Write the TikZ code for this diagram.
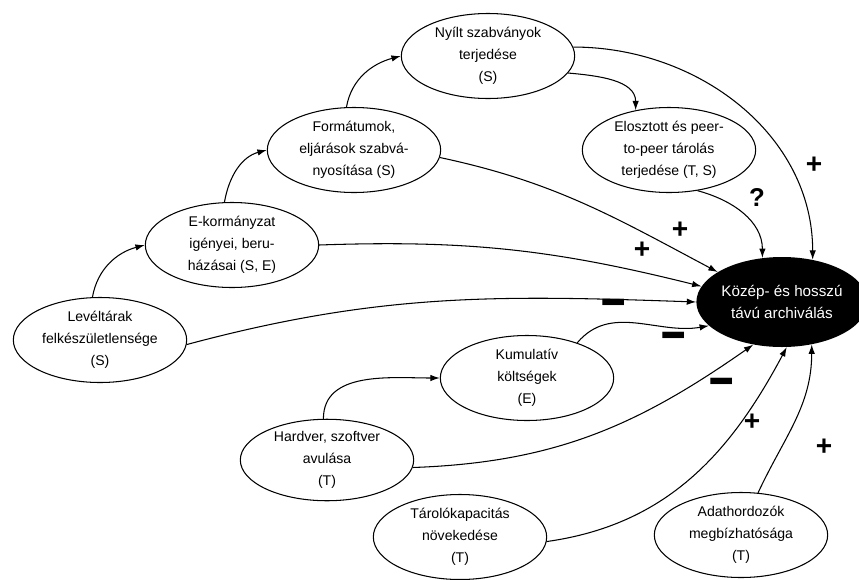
\documentclass[tikz,border=0pt]{standalone}
\usepackage{fontspec}
\setmainfont{Liberation Sans}
\usetikzlibrary{shapes.geometric,arrows.meta}
\begin{document}
\begin{tikzpicture}[x=.03cm,y=.03cm,font=\fontsize{12}{19}\selectfont,
  factor/.style={draw,line width=.9pt,ellipse,inner sep=0pt,minimum width=5.2cm,minimum height=2.55cm,align=center},
  link/.style={line width=.9pt,-{Latex[length=8pt,width=5.5pt]}},
  plus/.style={font=\fontsize{24}{24}\selectfont\bfseries},
  minus/.style={font=\fontsize{34}{34}\selectfont\bfseries}]
\useasboundingbox (0,0) rectangle (859,-579);
\node[factor] (nyilt) at (488,-56) {Nyílt szabványok\\terjedése\\(S)};
\node[factor] (eloszt) at (669,-150) {Elosztott és peer-\\to-peer tárolás\\terjedése (T, S)};
\node[factor] (format) at (354,-150) {Formátumok,\\eljárások szabvá-\\nyosítása (S)};
\node[factor] (ekorm) at (232,-245) {E-kormányzat\\igényei, beru-\\házásai (S, E)};
\node[factor] (levelt) at (100,-340) {Levéltárak\\felkészületlensége\\(S)};
\node[factor] (kumul) at (527,-378) {Kumulatív\\költségek\\(E)};
\node[factor,minimum height=2.4cm] (hardver) at (327,-460) {Hardver, szoftver\\avulása\\(T)};
\node[factor] (tarolo) at (460,-537) {Tárolókapacitás\\növekedése\\(T)};
\node[factor] (adath) at (741,-535) {Adathordozók\\megbízhatósága\\(T)};
\node[ellipse,fill=black,text=white,font=\fontsize{13}{19}\selectfont,inner sep=0pt,minimum width=5.1cm,minimum height=2.7cm,align=center] (cel) at (782,-302) {Közép- és hosszú\\távú archiválás};
\draw[link] (levelt.100) to[out=80,in=195] (ekorm.west);
\draw[link] (ekorm.100) to[out=80,in=195] (format.west);
\draw[link] (format.100) to[out=80,in=195] (nyilt.west);
\draw[link] (nyilt.-12) to[out=-5,in=90] (eloszt.130);
\draw[link] (nyilt.6) to[out=0,in=90] (cel.54);
\draw[link] (eloszt.-55) to[out=-15,in=90] (cel.114);
\draw[link] (format.-5) to[out=-12,in=152] (cel.155);
\draw[link] (ekorm.east) to[out=2,in=166] (cel.169);
\draw[link] (levelt.-3) to[out=15,in=178] (cel.west);
\draw[link] (kumul.35) to[out=50,in=190] (cel.198);
\draw[link] (hardver.95) to[out=90,in=180] (kumul.west);
\draw[link] (hardver.-5) to[out=2,in=215] (cel.236);
\draw[link] (tarolo.-3) to[out=8,in=242] (cel.276);
\draw[link] (adath.68) to[out=65,in=270] (cel.305);
\node[plus] (p1) at (814,-165) {+};
\node[font=\fontsize{22}{22}\selectfont\bfseries] (q1) at (757,-197) {?};
\node[plus] (p2) at (680,-230) {+};
\node[plus] (p3) at (642,-250) {+};
\node[minus] (m1) at (614,-309) {\scalebox{1.1}[1.6]{–}};
\node[minus] (m2) at (674,-342) {\scalebox{1.1}[1.6]{–}};
\node[minus] (m3) at (722,-388) {\scalebox{1.1}[1.6]{–}};
\node[plus] (p4) at (752,-422) {+};
\node[plus] (p5) at (824,-447) {+};
\end{tikzpicture}
\end{document}
